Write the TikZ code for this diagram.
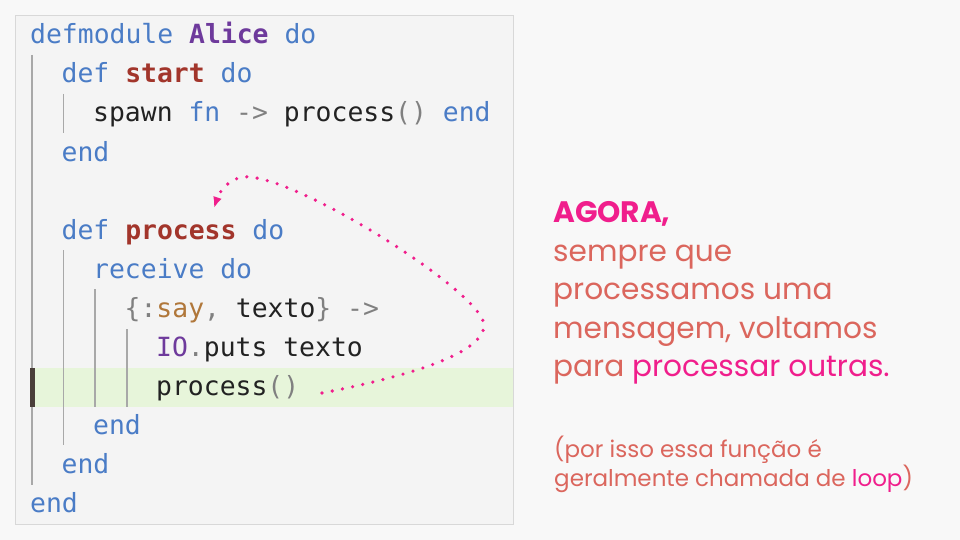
\documentclass[tikz,border=0pt]{standalone}
\usepackage{fontspec}
\setmainfont{Poppins}
\setmonofont{DejaVu Sans Mono}
\usepackage{xcolor}
\usetikzlibrary{arrows.meta}

\definecolor{pagebg}{HTML}{F8F8F8}
\definecolor{boxbg}{HTML}{F4F4F4}
\definecolor{boxline}{HTML}{D8D8D8}
\definecolor{hlgreen}{HTML}{E7F5DA}
\definecolor{kwblue}{HTML}{4A7CC6}
\definecolor{modpurple}{HTML}{6E3A9C}
\definecolor{fnred}{HTML}{A2352B}
\definecolor{atombrown}{HTML}{B0773A}
\definecolor{punc}{HTML}{808080}
\definecolor{ink}{HTML}{222222}
\definecolor{guide}{HTML}{A8A8A8}
\definecolor{cursorbar}{HTML}{4A3F3A}
\definecolor{salmon}{HTML}{DB665D}
\definecolor{hotpink}{HTML}{F01E8C}

\newcommand{\kw}[1]{\textcolor{kwblue}{#1}}
\newcommand{\modn}[1]{\textcolor{modpurple}{\bfseries #1}}
\newcommand{\fnn}[1]{\textcolor{fnred}{\bfseries #1}}
\newcommand{\pun}[1]{\textcolor{punc}{#1}}

\begin{document}
\begin{tikzpicture}[x=1pt,y=-1pt,
	code/.style={anchor=base west, inner sep=0pt, text=ink,
		font=\ttfamily\fontsize{26.4}{30}\selectfont},
	msg/.style={anchor=base west, inner sep=0pt, text=salmon,
		font=\fontsize{29.6}{36}\selectfont},
	note/.style={anchor=base west, inner sep=0pt, text=salmon,
		font=\fontsize{23}{28}\selectfont},
	guideline/.style={guide, line width=1.4pt},
	loopline/.style={hotpink, line width=3.6pt, line cap=round,
		dash pattern=on 0pt off 10.4pt}]
	\useasboundingbox (0,0) rectangle (960,540);
	\fill[pagebg] (0,0) rectangle (960,540);

	% code box
	\draw[boxline, fill=boxbg, line width=0.8pt] (15.5,15.5) rectangle (513.5,524.5);
	\fill[hlgreen] (32,368) rectangle (513,407);

	% indent guides
	\draw[guideline] (32,55) -- (32,485);
	\draw[guideline] (63.5,94) -- (63.5,133);
	\draw[guideline] (63.5,250) -- (63.5,445);
	\draw[guideline] (95,289) -- (95,407);
	\draw[guideline] (127,329) -- (127,407);
	\fill[cursorbar] (30,368) rectangle (35,407);

	% code lines
	\node[code] (l1) at (30,44) {\kw{defmodule} \modn{Alice} \kw{do}};
	\node[code] (l2) at (61.5,83) {\kw{def} \fnn{start} \kw{do}};
	\node[code] (l3) at (93,122) {spawn \kw{fn} \pun{->} process\pun{()} \kw{end}};
	\node[code] (l4) at (61.5,161) {\kw{end}};
	\node[code] (l6) at (61.5,239) {\kw{def} \fnn{process} \kw{do}};
	\node[code] (l7) at (93,278) {\kw{receive do}};
	\node[code] (l8) at (124.5,317) {\pun{\{:}\textcolor{atombrown}{say}\pun{,} texto\pun{\}} \pun{->}};
	\node[code] (l9) at (156,356) {\textcolor{modpurple}{IO}\pun{.}puts texto};
	\node[code] (l10) at (156,395) {process\pun{()}};
	\node[code] (l11) at (93,434) {\kw{end}};
	\node[code] (l12) at (61.5,473) {\kw{end}};
	\node[code] (l13) at (30,512) {\kw{end}};

	% loop back arrow
	\coordinate (loopfrom) at (322,393);
	\coordinate (loopturn) at (484,325);
	\coordinate (looptop) at (250,177);
	\coordinate (loopto) at (214,208);
	\draw[loopline, -{Latex[length=11pt,width=9pt]}]
		(loopfrom) .. controls (400,378) and (484,355) .. (loopturn)
		.. controls (484,295) and (310,183) .. (looptop)
		.. controls (232,175) and (220,190) .. (loopto);

	% explanation
	\node[msg, text=hotpink, font=\bfseries\fontsize{29.6}{36}\selectfont] (m1) at (553,222) {AGORA,};
	\node[msg] (m2) at (553,261) {sempre que};
	\node[msg] (m3) at (553,299) {processamos uma};
	\node[msg] (m4) at (553,338) {mensagem, voltamos};
	\node[msg] (m5) at (553,376) {para \textcolor{hotpink}{processar outras.}};
	\node[note] (n1) at (554,457) {(por isso essa função é};
	\node[note] (n2) at (554,486) {geralmente chamada de \textcolor{hotpink}{loop})};
\end{tikzpicture}
\end{document}
